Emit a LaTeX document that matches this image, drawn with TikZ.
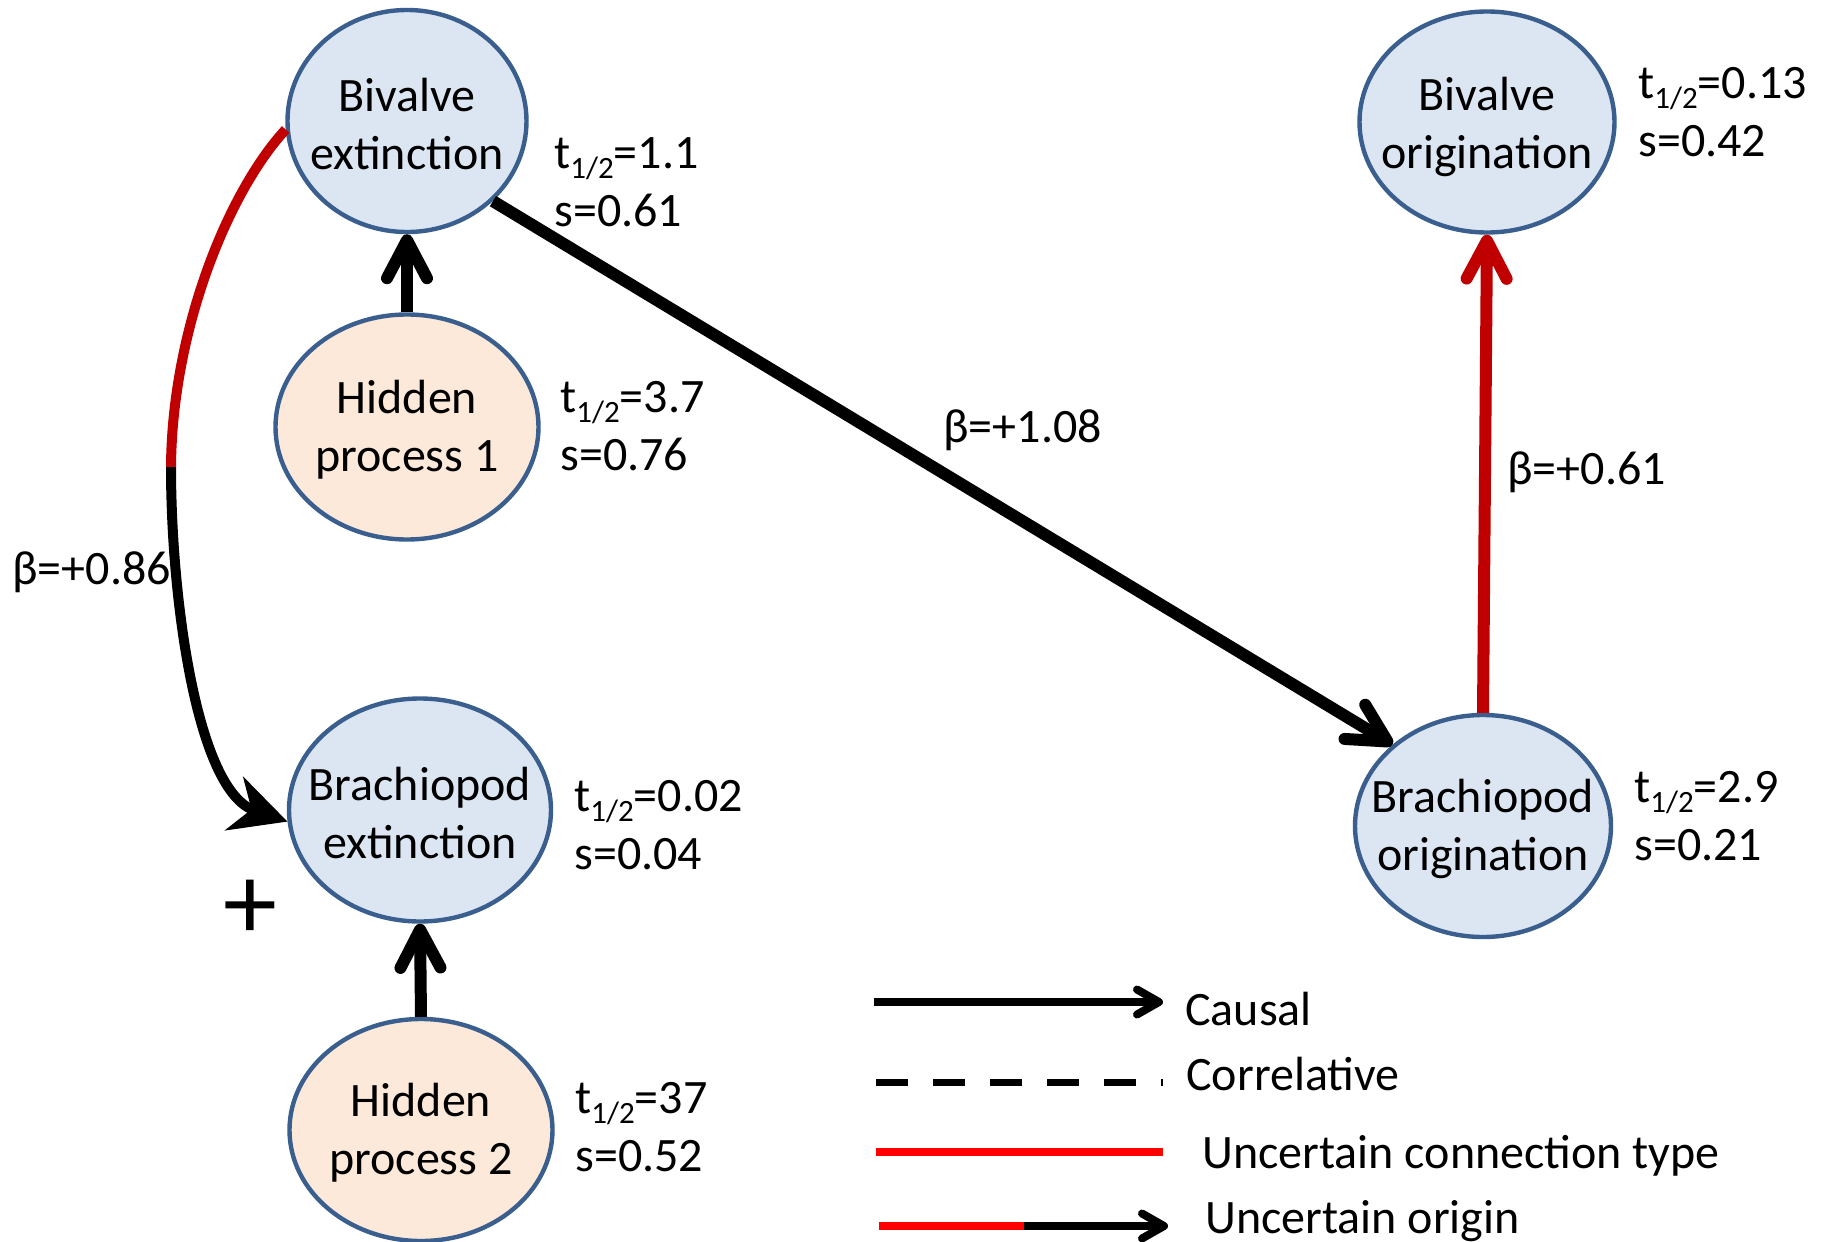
\documentclass[tikz,border=0pt]{standalone}
\usepackage{fontspec}
\setmainfont{Carlito}
\usetikzlibrary{arrows.meta,shapes.geometric}
\definecolor{nodeblue}{HTML}{DCE6F2}
\definecolor{nodepeach}{HTML}{FDE9D9}
\definecolor{edgeblue}{HTML}{3A5F8F}
\definecolor{darkred}{HTML}{C00000}
\definecolor{legred}{HTML}{FF0000}
\newcommand\tsub{t\raisebox{-5pt}{\fontsize{15.5}{15.5}\selectfont 1/2}}
\begin{document}
\begin{tikzpicture}[x=0.5pt,y=-0.5pt,
  every node/.style={font=\fontsize{24}{29}\selectfont, inner sep=0pt},
  ell/.style={ellipse, draw=edgeblue, line width=2.2pt},
  obs/.style={ell, fill=nodeblue},
  hid/.style={ell, fill=nodepeach},
  ntext/.style={align=center, yshift=-1.5pt},
  lab/.style={anchor=base west, align=left},
  chev/.style={-{Straight Barb[round,length=19pt,width=20pt]}},
  legchev/.style={-{Straight Barb[round,length=11pt,width=12.5pt]}},
  causal/.style={line width=6pt, chev},
  uncert/.style={line width=6pt, darkred, chev},
]
\useasboundingbox (0,0) rectangle (1827,1242);
% nodes
\node[obs, minimum width=119.5pt, minimum height=111pt] (bex) at (407,121) {};
\node[ntext] (bext) at (bex.center) {Bivalve\\extinction};
\node[hid, minimum width=131.5pt, minimum height=112.5pt] (h1) at (407,427) {};
\node[ntext] (h1t) at (h1.center) {Hidden\\process 1};
\node[obs, minimum width=131pt, minimum height=111.5pt] (brx) at (420,810) {};
\node[ntext] (brxt) at (brx.center) {Brachiopod\\extinction};
\node[hid, minimum width=131.5pt, minimum height=111pt] (h2) at (421,1130) {};
\node[ntext] (h2t) at (h2.center) {Hidden\\process 2};
\node[obs, minimum width=127.5pt, minimum height=110.5pt] (bior) at (1487,122) {};
\node[ntext, yshift=-1pt] (biort) at (bior.center) {Bivalve\\origination};
\node[obs, minimum width=128pt, minimum height=111pt] (bor) at (1483,826) {};
\node[ntext] (bort) at (bor.center) {Brachiopod\\origination};
% parameter labels
\node[lab] (bexl) at (554,226) {\tsub=1.1\\s=0.61};
\node[lab] (h1l) at (560,470) {\tsub=3.7\\s=0.76};
\node[lab] (brxl) at (574,869) {\tsub=0.02\\s=0.04};
\node[lab] (h2l) at (575,1171) {\tsub=37\\s=0.52};
\node[lab] (biorl) at (1638,156) {\tsub=0.13\\s=0.42};
\node[lab] (borl) at (1634,860) {\tsub=2.9\\s=0.21};
% edges
\draw[causal] (h1.north) -- (bex.south);
\draw[causal] (h2.north) -- (brx.south);
\draw[causal] (bex.-43) -- (bor.138);
\draw[uncert] (bor.north) -- (bior.south);
\coordinate (cm) at (171,467);
\draw[darkred, line width=5pt] (bex.184) .. controls (228,192) and (172,330) .. (cm);
\draw[line width=5pt, -{Stealth[length=28pt,width=28pt,inset=9pt]}] (cm) .. controls (171,600) and (197,791) .. (brx.185);
% edge labels
\node[anchor=base west] (b108) at (943,442) {β=+1.08};
\node[anchor=base west] (b061) at (1507,484) {β=+0.61};
\node[anchor=base west] (b086) at (12,584) {β=+0.86};
\node (plus) at (250,910) {\fontsize{54}{54}\selectfont +};
% legend
\coordinate (l1a) at (874,1002); \coordinate (l1b) at (1163,1002);
\draw[line width=4pt, legchev] (l1a) -- (l1b);
\node[anchor=base west] (l1t) at (1185,1025) {Causal};
\coordinate (l2a) at (876,1082); \coordinate (l2b) at (1163,1082);
\draw[line width=3.5pt, dash pattern=on 16pt off 12.5pt] (l2a) -- (l2b);
\node[anchor=base west] (l2t) at (1186,1090) {Correlative};
\coordinate (l3a) at (876,1152); \coordinate (l3b) at (1163,1152);
\draw[legred, line width=4pt] (l3a) -- (l3b);
\node[anchor=base west] (l3t) at (1202,1168) {Uncertain connection type};
\coordinate (l4a) at (879,1226); \coordinate (l4m) at (1024,1226); \coordinate (l4b) at (1168,1226);
\draw[legred, line width=4pt] (l4a) -- (l4m);
\draw[line width=4pt, legchev] (l4m) -- (l4b);
\node[anchor=base west] (l4t) at (1205,1233) {Uncertain origin};
\end{tikzpicture}
\end{document}
